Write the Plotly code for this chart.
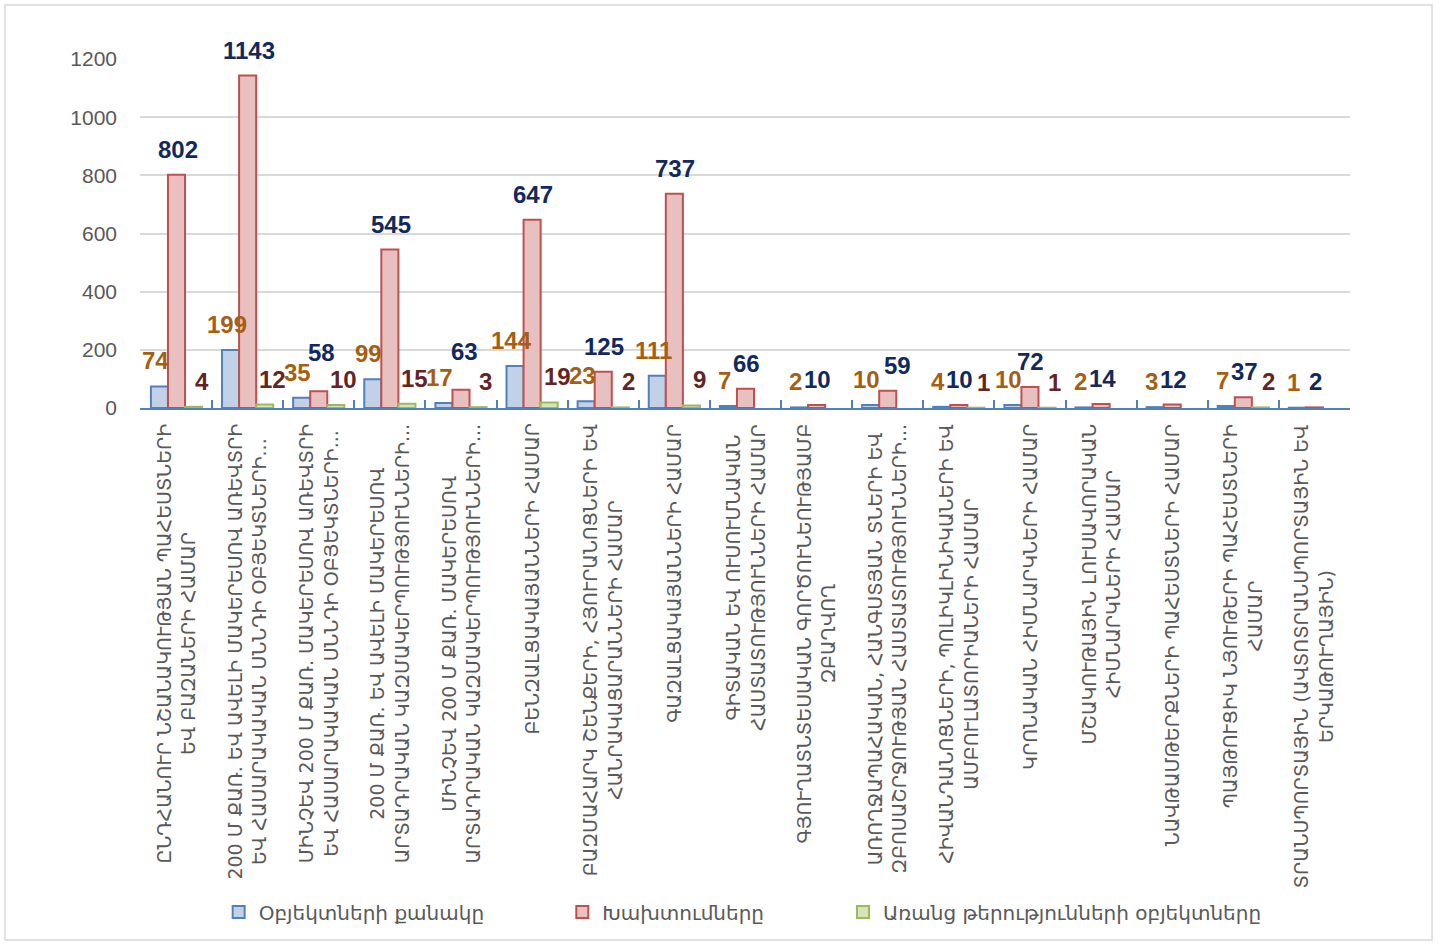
import plotly.graph_objects as go

categories = [
    "ԸՆԴՀԱՆՈՒՐ ՆՇԱՆԱԿՈՒԹՅԱՆ ՊԱՀԵՍՏՆԵՐԻ<br>ԵՎ ԲԱԶԱՆԵՐԻ ՀԱՄԱՐ",
    "200 Մ ՔԱՌ. ԵՎ ԱՎԵԼԻ ՄԱԿԵՐԵՍՈՎ ԱՌԵՎՏՐԻ<br>ԵՎ ՀԱՍԱՐԱԿԱԿԱՆ ՍՆՆԴԻ ՕԲՅԵԿՏՆԵՐԻ...",
    "ՄԻՆՉԵՎ 200 Մ ՔԱՌ. ՄԱԿԵՐԵՍՈՎ ԱՌԵՎՏՐԻ<br>ԵՎ ՀԱՍԱՐԱԿԱԿԱՆ ՍՆՆԴԻ ՕԲՅԵԿՏՆԵՐԻ...",
    "200 Մ ՔԱՌ. ԵՎ ԱՎԵԼԻ ՄԱԿԵՐԵՍՈՎ<br>ԱՐՏԱԴՐԱԿԱՆ ԿԱԶՄԱԿԵՐՊՈՒԹՅՈՒՆՆԵՐԻ...",
    "ՄԻՆՉԵՎ 200 Մ ՔԱՌ. ՄԱԿԵՐԵՍՈՎ<br>ԱՐՏԱԴՐԱԿԱՆ ԿԱԶՄԱԿԵՐՊՈՒԹՅՈՒՆՆԵՐԻ...",
    "ԲԵՆԶԱԼՑԱԿԱՅԱՆՆԵՐԻ ՀԱՄԱՐ",
    "ԲԱԶՄԱՀԱՐԿ ՇԵՆՔԵՐԻ, ՀՅՈՒՐԱՆՈՑՆԵՐԻ ԵՎ<br>ՀԱՆՐԱԿԱՑԱՐԱՆՆԵՐԻ ՀԱՄԱՐ",
    "ԳԱԶԱԼՑԱԿԱՅԱՆՆԵՐԻ ՀԱՄԱՐ",
    "ԳԻՏԱԿԱՆ ԵՎ ՈՒՍՈՒՄՆԱԿԱՆ<br>ՀԱՍՏԱՏՈՒԹՅՈՒՆՆԵՐԻ ՀԱՄԱՐ",
    "ԳՅՈՒՂԱՏՆՏԵՍԱԿԱՆ ԳՈՐԾՈՒՆԵՈՒԹՅԱՄԲ<br>ԶԲԱՂՎՈՂ",
    "ԱՌՈՂՋԱՊԱՀԱԿԱՆ, ՀԱՆԳՍՏՅԱՆ ՏՆԵՐԻ ԵՎ<br>ԶԲՈՍԱՇՐՋՈՒԹՅԱՆ ՀԱՍՏԱՏՈՒԹՅՈՒՆՆԵՐԻ...",
    "ՀԻՎԱՆԴԱՆՈՑՆԵՐԻ, ՊՈԼԻԿԼԻՆԻԿԱՆԵՐԻ ԵՎ<br>ԱՄԲՈՒԼԱՏՈՐԻԱՆԵՐԻ ՀԱՄԱՐ",
    "ԿՐՈՆԱԿԱՆ ՀԻՄՆԱՐԿՆԵՐԻ ՀԱՄԱՐ",
    "ՄՇԱԿՈՒԹԱՅԻՆ ԼՈՒՍԱՎՈՐԱԿԱՆ<br>ՀԻՄՆԱՐԿՆԵՐԻ ՀԱՄԱՐ",
    "ՆԱՎԹԱՄԹԵՐՔՆԵՐԻ ՊԱՀԵՍՏՆԵՐԻ ՀԱՄԱՐ",
    "ՊԱՅԹՈՒՑԻԿ ՆՅՈՒԹԵՐԻ ՊԱՀԵՍՏՆԵՐԻ<br>ՀԱՄԱՐ",
    "ՏՐԱՆՍՊՈՐՏԱՅԻՆ (ԱՎՏՈՏՐԱՆՍՊՈՐՏԱՅԻՆ ԵՎ<br>ԵՐԿԱԹՈՒՂԱՅԻՆ)",
]
cat_ids = [f"c{i}" for i in range(len(categories))]

series_names = [
    "Օբյեկտների քանակը",
    "Խախտումները",
    "Առանց թերությունների օբյեկտները",
]
objects_count = [74, 199, 35, 99, 17, 144, 23, 111, 7, 2, 10, 4, 10, 2, 3, 7, 1]
violations = [802, 1143, 58, 545, 63, 647, 125, 737, 66, 10, 59, 10, 72, 14, 12, 37, 2]
no_defects = [4, 12, 10, 15, 3, 19, 2, 9, None, None, None, 1, 1, None, None, 2, None]

y_ticks = [0, 200, 400, 600, 800, 1000, 1200]

FONT = "DejaVu Sans"
NUMFONT = "Liberation Sans, DejaVu Sans"
fills = ["#C3D1E7", "#E8C0C0", "#D6E4BC"]
lines = ["#4F81BD", "#C0504D", "#9BBB59"]
label_colors = ["#A65F12", "#12295E", "#632523"]
label_xshift = [-21, 1, 25]
label_yshift = [10, 10, 10]
# extra nudges of individual value labels (series index, category index) -> (dx, dy)
label_nudge = {(1, 2): (2, 13), (1, 4): (3, 13), (1, 10): (9, 0)}
legend_ids = ["legend2", "legend3", "legend4"]

fig = go.Figure()
all_series = [objects_count, violations, no_defects]
for k, vals in enumerate(all_series):
    fig.add_trace(go.Bar(
        x=cat_ids, y=vals, name=series_names[k],
        marker=dict(color=fills[k], line=dict(color=lines[k], width=2)),
        legend=legend_ids[k],
    ))

# value labels (drawn above all bars)
for k, vals in enumerate(all_series):
    for i, (cid, v) in enumerate(zip(cat_ids, vals)):
        if v is None:
            continue
        dx, dy = label_nudge.get((k, i), (0, 0))
        fig.add_annotation(
            x=cid, xref="x", y=v, yref="y", text=str(v), showarrow=False,
            xanchor="center", yanchor="bottom",
            xshift=label_xshift[k] + dx, yshift=label_yshift[k] + dy,
            font=dict(family=NUMFONT, size=24, color=label_colors[k], weight="bold"),
        )

# category labels as rotated annotations on the x axis
for cid, lab in zip(cat_ids, categories):
    fig.add_annotation(
        x=cid, xref="x", y=-0.04, yref="paper",
        text=lab, textangle=-90, showarrow=False,
        xanchor="center", yanchor="top", align="center",
        font=dict(family=FONT, size=19, color="#595959"),
    )

legend_common = dict(orientation="h", yanchor="middle", y=-1.444,
                     xanchor="left", bgcolor="rgba(0,0,0,0)",
                     font=dict(family=FONT, size=20, color="#595959"))
fig.update_layout(
    legend2=dict(x=0.065, **legend_common),
    legend3=dict(x=0.349, **legend_common),
    legend4=dict(x=0.581, **legend_common),
)

fig.update_layout(
    width=1439, height=945,
    margin=dict(l=140, r=89, t=59, b=537),
    paper_bgcolor="white", plot_bgcolor="white",
    barmode="group", bargap=0.28, bargroupgap=0.0,
    font=dict(family=FONT, color="#595959"),
    xaxis=dict(
        categoryorder="array", categoryarray=cat_ids,
        showticklabels=False, showgrid=False,
        showline=True, linecolor="#4F81BD", linewidth=2,
        ticks="inside", tickson="boundaries", ticklen=8,
        tickcolor="#4F81BD", tickwidth=1.5,
    ),
    yaxis=dict(
        range=[0, 1200], tickvals=y_ticks,
        showgrid=True, gridcolor="#D9D9D9", gridwidth=2,
        zeroline=False, showline=False,
        tickfont=dict(family=NUMFONT, size=21, color="#595959"),
        ticklabelstandoff=22,
    ),
    shapes=[dict(type="rect", xref="paper", yref="paper",
                 x0=-0.1116, x1=1.0678, y0=-1.524, y1=1.1547,
                 line=dict(color="#D9D9D9", width=1.5), fillcolor="rgba(0,0,0,0)",
                 layer="below")],
)

fig.write_html("out.html", config={"displayModeBar": False},
               post_script="document.body.style.margin='0';")
